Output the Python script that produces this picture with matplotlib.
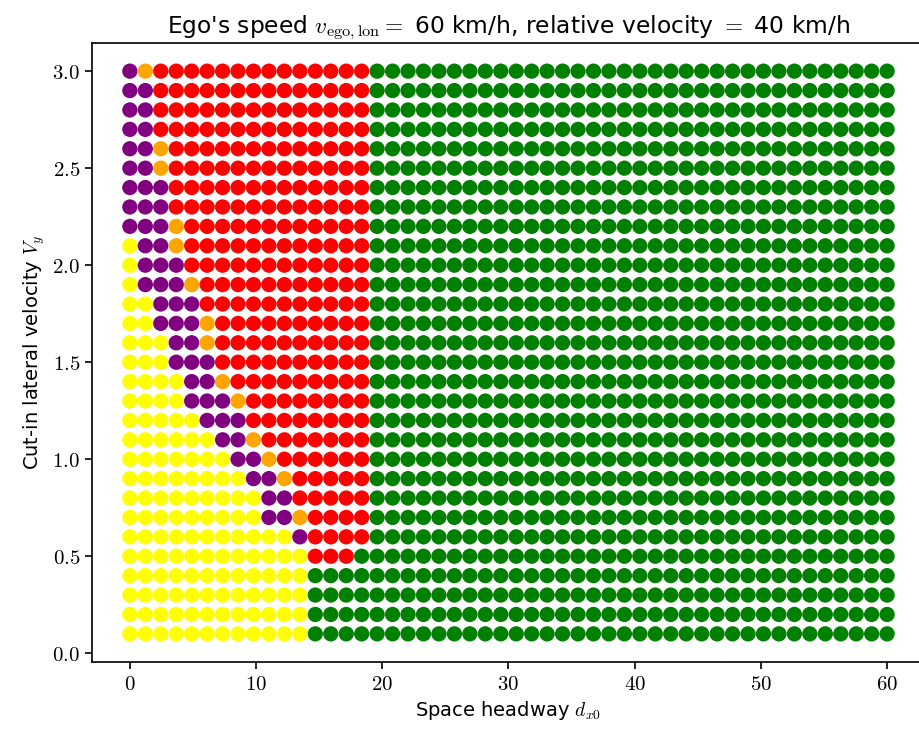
import matplotlib
matplotlib.use("Agg")
import matplotlib.pyplot as plt
import numpy as np
from matplotlib.ticker import FuncFormatter

plt.rcParams['font.family'] = ['DejaVu Sans']
plt.rcParams['mathtext.fontset'] = 'cm'

# grid of simulated cases
headways = np.linspace(0, 60, 50)
lateral_speeds = [0.1, 0.2, 0.3, 0.4, 0.5, 0.6, 0.7, 0.8, 0.9, 1.0,
                  1.1, 1.2, 1.3, 1.4, 1.5, 1.6, 1.7, 1.8, 1.9, 2.0,
                  2.1, 2.2, 2.3, 2.4, 2.5, 2.6, 2.7, 2.8, 2.9, 3.0]

# per row (low -> high lateral speed): how many points of each outcome, left to right;
# everything after them is green
n_yellow = [12, 12, 12, 12, 12, 11, 9, 9, 8, 7, 6, 5, 4, 4, 3, 3, 2, 2, 1, 1,
            1, 0, 0, 0, 0, 0, 0, 0, 0, 0]
n_purple = [0, 0, 0, 0, 0, 1, 2, 2, 2, 2, 2, 3, 3, 2, 3, 2, 3, 3, 3, 3,
            2, 3, 3, 3, 2, 2, 2, 2, 2, 1]
n_orange = [0, 0, 0, 0, 0, 0, 1, 0, 1, 1, 1, 0, 1, 1, 0, 1, 1, 0, 1, 0,
            1, 1, 0, 0, 1, 1, 0, 0, 0, 1]
n_red = [0, 0, 0, 0, 3, 4, 4, 5, 5, 6, 7, 8, 8, 9, 10, 10, 10, 11, 11, 12,
         12, 12, 13, 13, 13, 13, 14, 14, 14, 14]

outcome_colors = ['yellow', 'purple', 'orange', 'red', 'green']


def row_colors(counts: list[int], n_total: int) -> list[str]:
    colors = []
    for c, n in zip(outcome_colors[:-1], counts):
        colors += [c] * n
    colors += [outcome_colors[-1]] * (n_total - len(colors))
    return colors


xs, ys, cs = [], [], []
for i, vy in enumerate(lateral_speeds):
    colors = row_colors([n_yellow[i], n_purple[i], n_orange[i], n_red[i]], len(headways))
    xs += list(headways)
    ys += [vy] * len(headways)
    cs += colors

fig = plt.figure(figsize=(9.2, 7.34), dpi=100)
ax = fig.add_axes([0.1, 0.0981, 0.9054, 0.8433])
ax.scatter(xs, ys, c=cs, s=121, linewidths=0)

ax.xaxis.set_major_formatter(FuncFormatter(lambda v, p: f"${v:.0f}$"))
ax.yaxis.set_major_formatter(FuncFormatter(lambda v, p: f"${v:.1f}$"))
ax.tick_params(labelsize=15, width=1.2, length=5)
for s in ax.spines.values():
    s.set_linewidth(1.2)

ax.set_xlabel(r"Space headway $d_{x0}$", fontsize=14)
ax.set_ylabel(r"Cut-in lateral velocity $V_y$", fontsize=14)
ax.set_title(r"Ego's speed $v_{\mathrm{ego,lon}} =$ 60 km/h, relative velocity $=$ 40 km/h",
             fontsize=16.8, pad=7)

fig.savefig("out.png", dpi=100)
